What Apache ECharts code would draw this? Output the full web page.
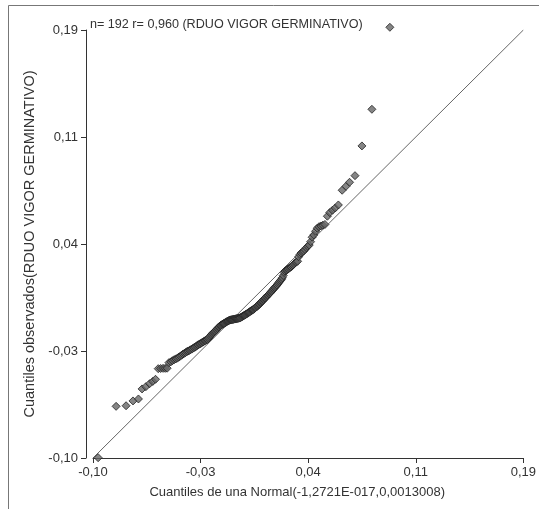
<!DOCTYPE html>
<html>
<head>
<meta charset="utf-8">
<script src="https://cdn.jsdelivr.net/npm/echarts@6/dist/echarts.min.js"></script>
<style>
  html, body { margin: 0; padding: 0; background: #fff; }
  #chart { width: 539px; height: 509px; }
</style>
</head>
<body>
<div id="chart"></div>
<script>
// cuantiles teoricos (eje x)
const xQuant = [
  -0.0966, -0.0847, -0.0781, -0.0735, -0.0699, -0.0675, -0.0650, -0.0625, -0.0604, -0.0586,
  -0.0568, -0.0552, -0.0536, -0.0522, -0.0509, -0.0497, -0.0485, -0.0474, -0.0462, -0.0451,
  -0.0441, -0.0432, -0.0422, -0.0413, -0.0404, -0.0395, -0.0387, -0.0378, -0.0371, -0.0362,
  -0.0355, -0.0347, -0.0340, -0.0332, -0.0325, -0.0318, -0.0311, -0.0305, -0.0298, -0.0291,
  -0.0285, -0.0279, -0.0272, -0.0266, -0.0260, -0.0254, -0.0248, -0.0242, -0.0236, -0.0231,
  -0.0225, -0.0219, -0.0214, -0.0208, -0.0203, -0.0197, -0.0192, -0.0186, -0.0181, -0.0176,
  -0.0171, -0.0166, -0.0160, -0.0155, -0.0150, -0.0145, -0.0140, -0.0135, -0.0130, -0.0125,
  -0.0120, -0.0115, -0.0111, -0.0106, -0.0101, -0.0096, -0.0092, -0.0087, -0.0082, -0.0077,
  -0.0072, -0.0068, -0.0063, -0.0058, -0.0054, -0.0049, -0.0044, -0.0039, -0.0035, -0.0030,
  -0.0026, -0.0021, -0.0016, -0.0012, -0.0007, -0.0002,
  0.0002, 0.0007, 0.0012, 0.0016, 0.0021, 0.0026, 0.0030, 0.0035, 0.0039, 0.0044,
  0.0049, 0.0054, 0.0058, 0.0063, 0.0068, 0.0072, 0.0077, 0.0082, 0.0087, 0.0092,
  0.0096, 0.0101, 0.0106, 0.0111, 0.0115, 0.0120, 0.0125, 0.0130, 0.0135, 0.0140,
  0.0145, 0.0150, 0.0155, 0.0160, 0.0166, 0.0171, 0.0176, 0.0181, 0.0186, 0.0192,
  0.0197, 0.0203, 0.0208, 0.0214, 0.0219, 0.0225, 0.0231, 0.0236, 0.0242, 0.0248,
  0.0254, 0.0260, 0.0266, 0.0272, 0.0279, 0.0285, 0.0291, 0.0298, 0.0305, 0.0311,
  0.0318, 0.0325, 0.0332, 0.0340, 0.0347, 0.0355, 0.0362, 0.0371, 0.0378, 0.0387,
  0.0395, 0.0404, 0.0413, 0.0422, 0.0432, 0.0441, 0.0451, 0.0462, 0.0474, 0.0485,
  0.0497, 0.0509, 0.0522, 0.0536, 0.0552, 0.0568, 0.0586, 0.0604, 0.0625, 0.0650,
  0.0675, 0.0699, 0.0735, 0.0781, 0.0847, 0.0966
]

// cuantiles observados (eje y)
const yObs = [
  -0.0998, -0.0656, -0.0652, -0.0620, -0.0607, -0.0540, -0.0525, -0.0505, -0.0490, -0.0476,
  -0.0405, -0.0404, -0.0403, -0.0403, -0.0402, -0.0365, -0.0360, -0.0352, -0.0345, -0.0340,
  -0.0335, -0.0328, -0.0322, -0.0315, -0.0308, -0.0303, -0.0298, -0.0292, -0.0288, -0.0284,
  -0.0280, -0.0275, -0.0271, -0.0266, -0.0262, -0.0257, -0.0252, -0.0247, -0.0243, -0.0240,
  -0.0236, -0.0232, -0.0228, -0.0224, -0.0220, -0.0217, -0.0214, -0.0211, -0.0205, -0.0198,
  -0.0190, -0.0183, -0.0176, -0.0170, -0.0165, -0.0160, -0.0156, -0.0150, -0.0144, -0.0138,
  -0.0132, -0.0127, -0.0122, -0.0118, -0.0114, -0.0111, -0.0108, -0.0105, -0.0102, -0.0099,
  -0.0096, -0.0093, -0.0090, -0.0088, -0.0085, -0.0083, -0.0081, -0.0080, -0.0079, -0.0078,
  -0.0077, -0.0076, -0.0075, -0.0074, -0.0073, -0.0072, -0.0071, -0.0070, -0.0069, -0.0068,
  -0.0066, -0.0064, -0.0061, -0.0058, -0.0055, -0.0052, -0.0050, -0.0047, -0.0044, -0.0041,
  -0.0038, -0.0035, -0.0032, -0.0029, -0.0025, -0.0022, -0.0019, -0.0016, -0.0013, -0.0010,
  -0.0006, -0.0002, 0.0002, 0.0006, 0.0010, 0.0015, 0.0019, 0.0024, 0.0029, 0.0034,
  0.0039, 0.0044, 0.0049, 0.0055, 0.0060, 0.0065, 0.0070, 0.0076, 0.0081, 0.0086,
  0.0092, 0.0097, 0.0102, 0.0108, 0.0114, 0.0121, 0.0128, 0.0134, 0.0140, 0.0146,
  0.0152, 0.0160, 0.0168, 0.0176, 0.0183, 0.0190, 0.0200, 0.0215, 0.0235, 0.0245,
  0.0250, 0.0254, 0.0258, 0.0263, 0.0268, 0.0272, 0.0278, 0.0285, 0.0293, 0.0300,
  0.0305, 0.0310, 0.0340, 0.0355, 0.0365, 0.0372, 0.0378, 0.0388, 0.0400, 0.0410,
  0.0418, 0.0440, 0.0470, 0.0485, 0.0510, 0.0530, 0.0540, 0.0545, 0.0550, 0.0555,
  0.0610, 0.0634, 0.0650, 0.0665, 0.0685, 0.0783, 0.0809, 0.0836, 0.0880, 0.1078,
  0.1322, 0.1868
]

const tickLabels = ['-0,10', '-0,03', '0,04', '0,11', '0,19']
const axisRange = [-0.1, 0.185]

const titleText = 'n= 192 r= 0,960 (RDUO VIGOR GERMINATIVO)'
const xName = 'Cuantiles de una Normal(-1,2721E-017,0,0013008)'
const yName = 'Cuantiles observados(RDUO VIGOR GERMINATIVO)'

const FONT = "'Liberation Sans', Arial, sans-serif"
const TXT = '#333'
const AXIS = '#333'

// 5 marcas equiespaciadas entre min y max (la ultima exactamente en max)
const last = tickLabels.length - 1
const step = (axisRange[1] - axisRange[0]) / last
const tickValues = tickLabels.map((l, i) => (i === last ? axisRange[1] : axisRange[0] + i * step))
const fmt = v => {
  const k = tickValues.findIndex(t => Math.abs(t - v) < 1e-6)
  return k >= 0 ? tickLabels[k] : ''
}

const points = xQuant.map((x, i) => [x, yObs[i]])

const chart = echarts.init(document.getElementById('chart'), null, { renderer: 'canvas' })

const baseAxis = {
  type: 'value',
  min: axisRange[0],
  max: axisRange[1],
  splitLine: { show: false },
  axisLine: { show: true, onZero: false, lineStyle: { color: AXIS, width: 1 } },
  axisTick: {
    show: true,
    inside: false,
    length: 5,
    customValues: tickValues,
    lineStyle: { color: AXIS, width: 1 }
  },
  axisLabel: {
    show: true,
    customValues: tickValues,
    formatter: fmt,
    color: TXT,
    fontFamily: FONT,
    fontSize: 13,
    margin: 8,
    hideOverlap: false,
    showMinLabel: true,
    showMaxLabel: true
  },
  nameLocation: 'middle',
  nameTextStyle: { color: TXT, fontFamily: FONT, fontSize: 13 }
}

chart.setOption({
  animation: false,
  backgroundColor: '#fff',
  title: {
    text: titleText,
    left: 85,
    top: 13,
    textStyle: { color: TXT, fontFamily: FONT, fontSize: 12.6, fontWeight: 'normal' }
  },
  grid: { left: 93, right: 14, top: 30, bottom: 51, containLabel: false },
  graphic: [
    {
      type: 'polyline',
      shape: { points: [[8.5, 509], [8.5, 5.5], [539, 5.5]] },
      style: { stroke: '#777', lineWidth: 1, fill: null },
      silent: true
    }
  ],
  xAxis: Object.assign({}, baseAxis, {
    position: 'bottom',
    name: xName,
    nameGap: 28,
    nameTextStyle: { color: TXT, fontFamily: FONT, fontSize: 13, padding: [0, 22, 0, 0] }
  }),
  yAxis: Object.assign({}, baseAxis, {
    position: 'left',
    offset: 7,
    name: yName,
    nameGap: 48,
    nameTextStyle: { color: TXT, fontFamily: FONT, fontSize: 14.5 }
  }),
  series: [
    {
      type: 'line',
      data: [[axisRange[0], axisRange[0]], [axisRange[1], axisRange[1]]],
      symbol: 'none',
      silent: true,
      lineStyle: { color: '#666', width: 1 },
      z: 1
    },
    {
      type: 'scatter',
      data: points,
      symbol: 'diamond',
      symbolSize: 8,
      clip: false,
      itemStyle: { color: '#666', borderColor: '#222', borderWidth: 1 },
      z: 2
    }
  ]
})
</script>
</body>
</html>
